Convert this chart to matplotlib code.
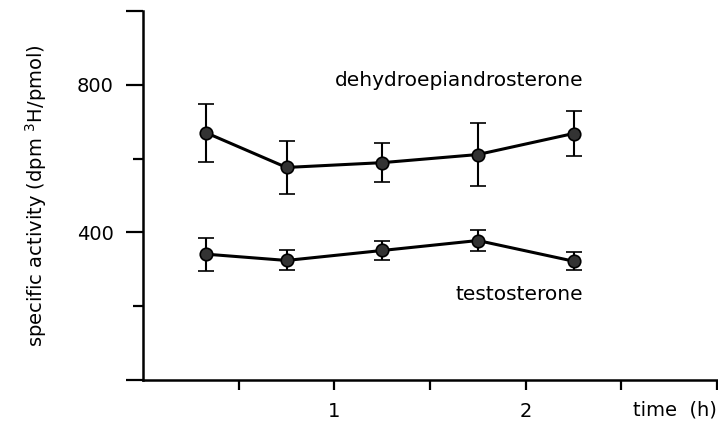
import matplotlib
matplotlib.use("Agg")
import matplotlib.pyplot as plt

# time points (h)
t = [0.33, 0.75, 1.25, 1.75, 2.25]

# specific activity (dpm 3H/pmol)
dhea = [670, 576, 589, 611, 668]
dhea_err = [78, 73, 52, 85, 62]
testo = [341, 324, 351, 378, 322]
testo_err = [45, 27, 26, 29, 25]

fig = plt.figure(figsize=(7.18, 4.33), dpi=100)
ax = fig.add_axes([143/718, 53/433, (717-143)/718, (380-11)/433])

for y, e in [(dhea, dhea_err), (testo, testo_err)]:
    ax.errorbar(t, y, yerr=e, color="black", lw=2.2, elinewidth=1.5,
                capsize=5.5, capthick=1.6, marker="o", ms=9,
                mfc="#333333", mec="black", mew=1.2)

ax.text(2.30, 813, "dehydroepiandrosterone", ha="right", va="center",
        fontsize=14.5, family="DejaVu Sans")
ax.text(2.30, 233, "testosterone", ha="right", va="center",
        fontsize=14.5, family="DejaVu Sans")

ax.set_xlim(0, 3)
ax.set_ylim(0, 1000)
ax.spines["top"].set_visible(False)
ax.spines["right"].set_visible(False)
ax.spines["left"].set_linewidth(1.8)
ax.spines["bottom"].set_linewidth(1.8)

ax.set_yticks([0, 400, 800, 1000])
ax.set_yticklabels(["", "400", "800", ""])
ax.set_yticks([200, 600], minor=True)
ax.tick_params(axis="y", which="major", length=12, width=1.6, labelsize=14, pad=9)
ax.tick_params(axis="y", which="minor", length=7, width=1.6)

ax.set_xticks([0.5, 1, 1.5, 2, 2.5, 3])
ax.set_xticklabels(["", "1", "", "2", "", ""])
ax.tick_params(axis="x", length=7, width=1.6, labelsize=14, pad=9)

ax.set_ylabel("specific activity (dpm $^3$H/pmol)", fontsize=14, labelpad=20)
fig.text(717/718, 1 - 410/433, "time  (h)", ha="right", va="center", fontsize=14)

fig.savefig("out.png", dpi=100)
